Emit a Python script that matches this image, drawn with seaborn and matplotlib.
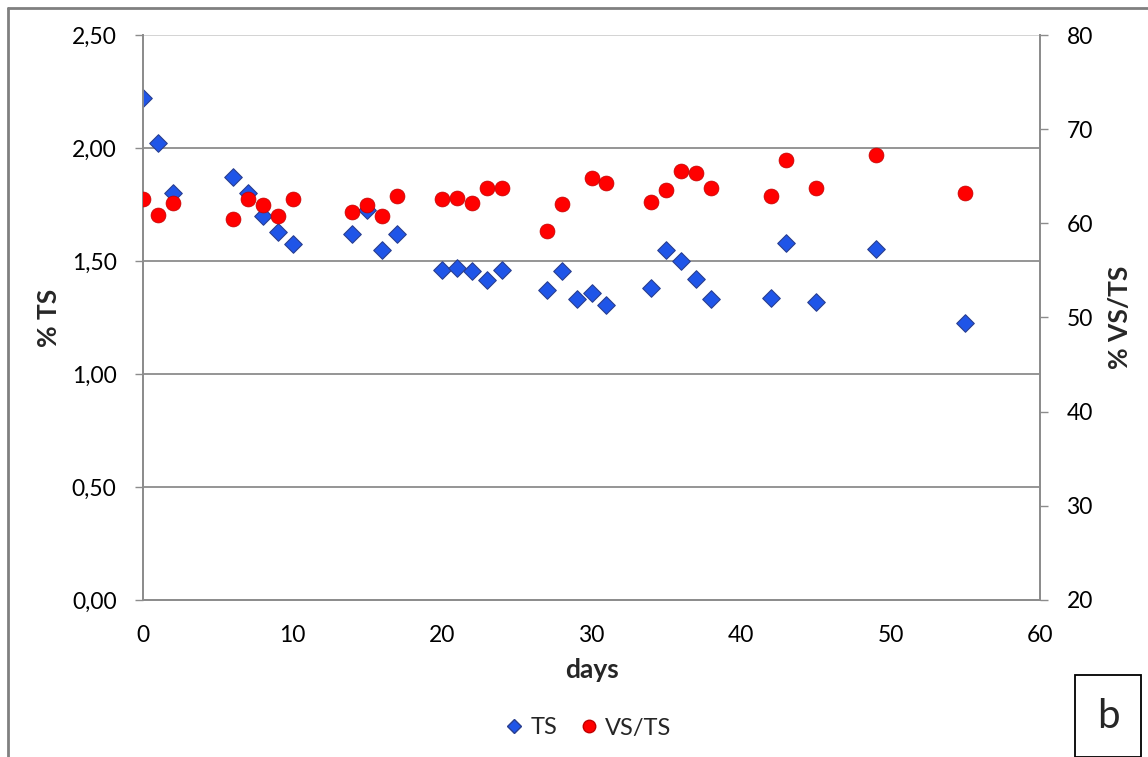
import numpy as np
import pandas as pd
import matplotlib
matplotlib.use("Agg")
import matplotlib.pyplot as plt
import seaborn as sns
from matplotlib.ticker import FuncFormatter, MultipleLocator
from matplotlib.lines import Line2D

# data
days = [0, 1, 2, 6, 7, 8, 9, 10, 14, 15, 16, 17, 20, 21, 22, 23, 24, 27, 28, 29,
        30, 31, 34, 35, 36, 37, 38, 42, 43, 45, 49, 55]
ts = [2.22, 2.02, 1.80, 1.87, 1.80, 1.70, 1.63, 1.575, 1.62, 1.725, 1.55, 1.62,
      1.46, 1.47, 1.455, 1.415, 1.46, 1.37, 1.455, 1.33, 1.36, 1.305, 1.38, 1.55,
      1.50, 1.42, 1.33, 1.335, 1.58, 1.32, 1.555, 1.225]

vs_days = [0, 1, 2, 6, 7, 8, 9, 10, 14, 15, 16, 17, 20, 21, 22, 23, 24, 27, 28,
           30, 31, 34, 35, 36, 37, 38, 42, 43, 45, 49, 55]
vs_ts = [62.6, 60.9, 62.2, 60.5, 62.6, 61.9, 60.8, 62.6, 61.2, 62.0, 60.8, 62.9,
         62.6, 62.7, 62.2, 63.7, 63.7, 59.2, 62.1, 64.8, 64.3, 62.3, 63.5, 65.6,
         65.3, 63.7, 62.9, 66.7, 63.7, 67.3, 63.2]

df_ts = pd.DataFrame({"days": days, "TS": ts})
df_vs = pd.DataFrame({"days": vs_days, "VS/TS": vs_ts})

sns.set_style("white")
plt.rcParams["font.family"] = ["Lato", "DejaVu Sans"]

blue = "#1f55e8"
red = "#ff0000"
grid_c = "#8c8c8c"

fig = plt.figure(figsize=(11.48, 7.57), dpi=100)
ax = fig.add_axes([143 / 1148, 1 - 600 / 757, (1040 - 143) / 1148, (600 - 35) / 757])
ax2 = ax.twinx()

# horizontal gridlines of the left axis
for v in [0.5, 1.0, 1.5, 2.0]:
    ax.axhline(v, color=grid_c, lw=1.3, zorder=0)
ax.axhline(2.5, color="#d0d0d0", lw=1.3, zorder=0)

sns.scatterplot(data=df_ts, x="days", y="TS", ax=ax, marker="D", s=80,
                color=blue, edgecolor="#2a3f90", linewidth=0.8, zorder=3, legend=False)
sns.scatterplot(data=df_vs, x="days", y="VS/TS", ax=ax2, marker="o", s=115,
                color=red, edgecolor="#c00000", linewidth=0.5, zorder=3, legend=False)

ax.set_xlim(0, 60)
ax.set_ylim(0, 2.5)
ax2.set_ylim(20, 80)
ax.xaxis.set_major_locator(MultipleLocator(10))
ax.yaxis.set_major_locator(MultipleLocator(0.5))
ax2.yaxis.set_major_locator(MultipleLocator(10))
ax.yaxis.set_major_formatter(FuncFormatter(lambda v, p: f"{v:.2f}".replace(".", ",")))

for a in (ax, ax2):
    for s in a.spines.values():
        s.set_color(grid_c)
        s.set_linewidth(1.3)
    a.spines["top"].set_visible(False)
    a.tick_params(colors="black", labelsize=16.5, length=6, width=1.0)
    a.tick_params(axis="both", color=grid_c)
ax.tick_params(axis="y", pad=13)
ax.tick_params(axis="x", pad=12)
ax2.tick_params(axis="y", pad=13)

ax.set_xlabel("days", fontsize=19, fontweight="bold", labelpad=9)
ax.set_ylabel("% TS", fontsize=19, fontweight="bold", labelpad=8)
ax2.set_ylabel("% VS/TS", fontsize=19, fontweight="bold", va="center")
ax2.yaxis.set_label_coords((1120 - 143) / 897, 0.5)

handles = [
    Line2D([], [], marker="D", ls="none", color=blue, markeredgecolor="#2a3f90", markersize=7),
    Line2D([], [], marker="o", ls="none", color=red, markeredgecolor="#c00000", markersize=9),
]
fig.legend(handles, ["TS", "VS/TS"], loc="center", bbox_to_anchor=(587 / 1148, 1 - 728 / 757),
           ncol=2, frameon=False, fontsize=17, handletextpad=0.2, columnspacing=0.8,
           handlelength=1.0)

# outer chart frame and the panel letter
fig.add_artist(Line2D([8 / 1148, 8 / 1148], [0, 1 - 8 / 757], transform=fig.transFigure,
                      color="#808080", lw=2))
fig.add_artist(Line2D([8 / 1148, 1], [1 - 8 / 757, 1 - 8 / 757], transform=fig.transFigure,
                      color="#808080", lw=2))
fig.text(1108 / 1148, 1 - 716 / 757, "b", fontsize=29, ha="center", va="center",
         bbox=dict(boxstyle="square,pad=0.55", fc="white", ec="black", lw=1.3))

fig.savefig("out.png", dpi=100)
